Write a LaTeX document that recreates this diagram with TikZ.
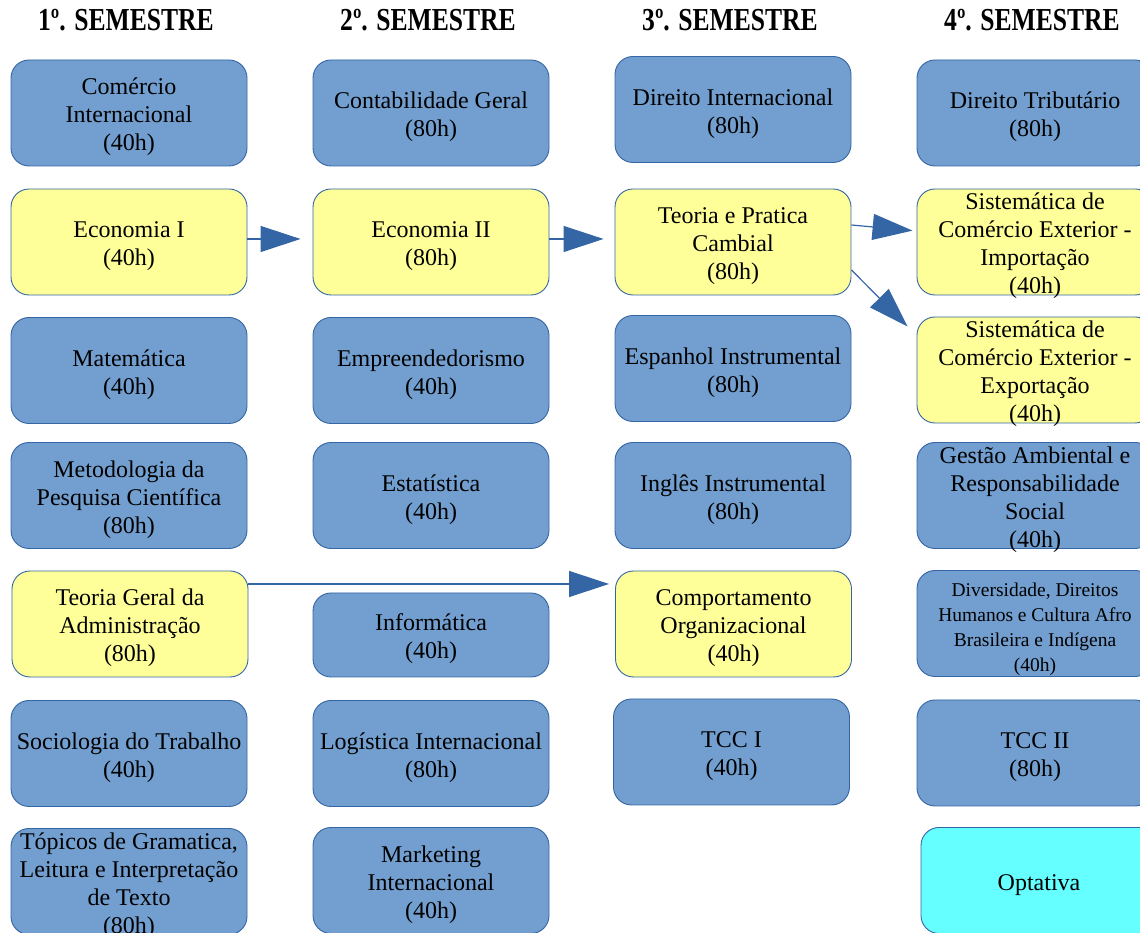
\documentclass[tikz,border=0pt]{standalone}
\usepackage{fontspec}
\setmainfont{Liberation Serif}
\newfontfamily\headfont[FakeStretch=0.8]{Liberation Serif}
\usetikzlibrary{positioning,arrows.meta}
\definecolor{boxblue}{HTML}{729FCF}
\definecolor{edgeblue}{HTML}{3465A4}
\definecolor{boxyellow}{HTML}{FFFF99}
\definecolor{boxcyan}{HTML}{66FFFF}

\tikzset{
  disc/.style={draw=edgeblue, line width=0.9pt, rounded corners=18pt,
    text width=230pt, inner xsep=3pt,
    minimum width=236pt, minimum height=106pt, inner ysep=0pt,
    align=flush center, font=\fontsize{24}{28}\selectfont,
    execute at begin node={\rule{0pt}{25pt}}},
  quatro/.style={inner ysep=-5pt},
  obrig/.style={disc, fill=boxblue},
  prereq/.style={disc, fill=boxyellow},
  optat/.style={disc, fill=boxcyan},
  head/.style={font=\headfont\bfseries\fontsize{32}{34}\selectfont},
  seta/.style={draw=edgeblue, line width=1.2pt,
    -{Triangle[length=40pt,width=26pt]}, edgeblue}
}

\begin{document}
\begin{tikzpicture}[x=1pt,y=1pt]
		\useasboundingbox (0,0) rectangle (1140,933);
		\clip (0,0) rectangle (1140,933);
		% semestres
		\node[head] (s1) at (126,913) {1º. SEMESTRE};
		\node[head] (s2) at (428,913) {2º. SEMESTRE};
		\node[head] (s3) at (730,913) {3º. SEMESTRE};
		\node[head] (s4) at (1032,913) {4º. SEMESTRE};
		% 1o semestre
		\node[obrig] (ci) at (129,820) {Comércio\\Internacional\\(40h)};
		\node[prereq] (ec1) at (129,691) {Economia I\\(40h)};
		\node[obrig] (mat) at (129,562.5) {Matemática\\(40h)};
		\node[obrig] (mpc) at (129,437.5) {Metodologia da\\Pesquisa Científica\\(80h)};
		\node[prereq] (tga) at (130,309) {Teoria Geral da\\Administração\\(80h)};
		\node[obrig] (soc) at (129,179.5) {Sociologia do Trabalho\\(40h)};
		\node[obrig, quatro] (top) at (129,51.5) {Tópicos de Gramatica,\\Leitura e Interpretação\\de Texto\\(80h)};
		% 2o semestre
		\node[obrig] (cg) at (431,820) {Contabilidade Geral\\(80h)};
		\node[prereq] (ec2) at (431,691) {Economia II\\(80h)};
		\node[obrig] (emp) at (431,562.5) {Empreendedorismo\\(40h)};
		\node[obrig] (est) at (431,437.5) {Estatística\\(40h)};
		\node[obrig, minimum height=84pt] (inf) at (431,298) {Informática\\(40h)};
		\node[obrig] (log) at (431,179.5) {Logística Internacional\\(80h)};
		\node[obrig] (mkt) at (431,52.5) {Marketing\\Internacional\\(40h)};
		% 3o semestre
		\node[obrig] (di) at (733,823.5) {Direito Internacional\\(80h)};
		\node[prereq] (tpc) at (733,691) {Teoria e Pratica\\Cambial\\(80h)};
		\node[obrig] (esp) at (733,564.5) {Espanhol Instrumental\\(80h)};
		\node[obrig] (ing) at (733,437.5) {Inglês Instrumental\\(80h)};
		\node[prereq] (co) at (733.5,309) {Comportamento\\Organizacional\\(40h)};
		\node[obrig] (tcc1) at (731.5,181) {TCC I\\(40h)};
		% 4o semestre
		\node[obrig] (dt) at (1035,820) {Direito Tributário\\(80h)};
		\node[prereq, quatro] (sci) at (1035,691) {Sistemática de\\Comércio Exterior -\\Importação\\(40h)};
		\node[prereq, quatro] (sce) at (1035,563) {Sistemática de\\Comércio Exterior -\\Exportação\\(40h)};
		\node[obrig, quatro] (ga) at (1035,437.5) {Gestão Ambiental e\\Responsabilidade\\Social\\(40h)};
		\node[obrig, font=\fontsize{19.5}{25}\selectfont] (div) at (1035,309.5) {Diversidade, Direitos\\Humanos e Cultura Afro\\Brasileira e Indígena\\(40h)};
		\node[obrig] (tcc2) at (1035,180) {TCC II\\(80h)};
		\node[optat] (opt) at (1039,52.5) {Optativa};
		% pre-requisitos
		\draw[seta, shorten >=12pt] ([yshift=3pt]ec1.east) -- ([yshift=3pt]ec2.west);
		\draw[seta, shorten >=11pt] ([yshift=3pt]ec2.east) -- ([yshift=3pt]tpc.west);
		\draw[seta, shorten >=4pt] ([yshift=17pt]tpc.east) -- ([yshift=11pt]sci.west);
		\draw[seta] ([yshift=-28pt]tpc.east) -- ([xshift=-9pt,yshift=-10pt]sce.north west);
		\draw[seta, shorten >=6pt] ([yshift=40pt]tga.east) -- ([yshift=40pt]co.west);
\end{tikzpicture}
\end{document}
